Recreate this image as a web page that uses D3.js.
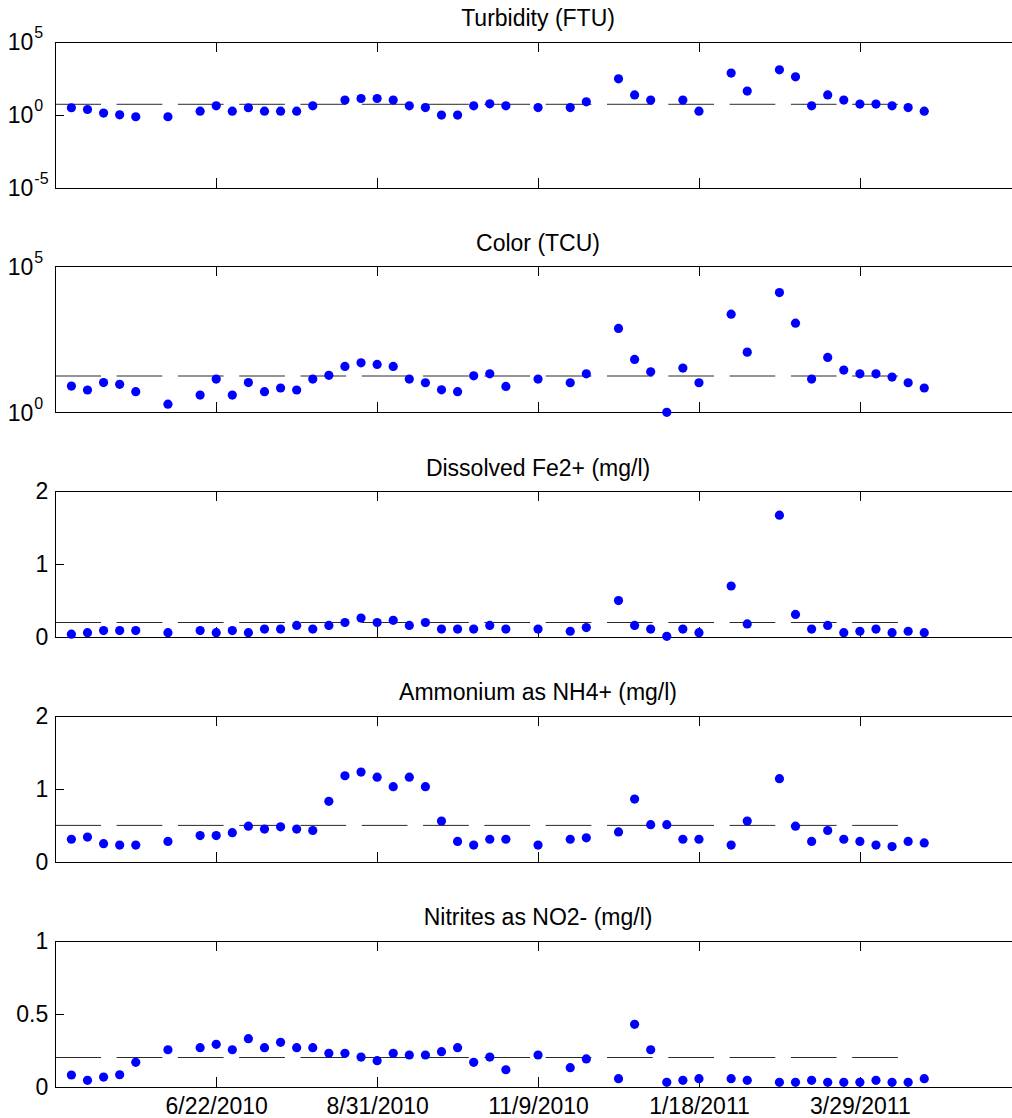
<!DOCTYPE html>
<html>
<head>
<meta charset="utf-8">
<script src="https://cdn.jsdelivr.net/npm/d3@7"></script>
<style>
  html, body { margin: 0; padding: 0; background: #fff; }
  svg { display: block; }
  text { font-family: "Liberation Sans", Arial, Helvetica, sans-serif; fill: #000; }
  .axis path, .axis line { stroke: #000; stroke-width: 1; shape-rendering: crispEdges; }
</style>
</head>
<body>
<svg id="chart" width="1012" height="1118"></svg>
<script>
// Weekly sampling dates (mostly Tuesdays)
const sampleDates = [
  "2010-04-20","2010-04-27","2010-05-04","2010-05-11","2010-05-18","2010-06-01","2010-06-15","2010-06-22",
  "2010-06-29","2010-07-06","2010-07-13","2010-07-20","2010-07-27","2010-08-03","2010-08-10","2010-08-17",
  "2010-08-24","2010-08-31","2010-09-07","2010-09-14","2010-09-21","2010-09-28","2010-10-05","2010-10-12",
  "2010-10-19","2010-10-26","2010-11-09","2010-11-23","2010-11-30","2010-12-14","2010-12-21","2010-12-28",
  "2011-01-04","2011-01-11","2011-01-18","2011-02-01","2011-02-08","2011-02-22","2011-03-01","2011-03-08",
  "2011-03-15","2011-03-22","2011-03-29","2011-04-05","2011-04-12","2011-04-19","2011-04-26"
];

// Turbidity (FTU); null = not measured
const turbidity = [
  2.9, 2.2, 1.25, 0.95, 0.70, 0.70, 1.7, 3.9, 1.7, 2.9, 1.7, 1.7, 1.7, 3.9, null, 9.7,
  12.5, 12.5, 9.7, 3.9, 3.0, 0.91, 0.91, 3.9, 5.4, 3.9, 3.0, 3.0, 7.4, 279, 22, 9.7,
  null, 9.7, 1.7, 686, 40, 1153, 382, 3.9, 22, 9.7, 5.2, 5.2, 3.9, 3.0, 1.7
];

// Color (TCU)
const color = [
  7.9, 5.8, 10.4, 9.1, 5.1, 1.9, 3.9, 13.7, 3.9, 10.4, 5.1, 6.8, 5.8, 13.7, 18.4, 37.3,
  49.5, 43.7, 37.3, 13.7, 10.3, 5.9, 5.1, 17.8, 20.8, 7.7, 13.7, 10.3, 20.8, 743, 64.7, 24.4,
  1.0, 32.7, 10.3, 2291, 115, 12620, 1127, 13.7, 75.9, 27.9, 20.8, 20.8, 16.1, 10.3, 6.8
];

// Dissolved Fe2+ (mg/l)
const iron = [
  0.04, 0.06, 0.09, 0.09, 0.09, 0.06, 0.09, 0.06, 0.09, 0.06, 0.11, 0.11, 0.16, 0.11, 0.16, 0.20,
  0.26, 0.20, 0.23, 0.16, 0.20, 0.11, 0.11, 0.11, 0.16, 0.11, 0.11, 0.08, 0.13, 0.50, 0.16, 0.11,
  0.01, 0.11, 0.06, 0.70, 0.18, 1.67, 0.31, 0.11, 0.16, 0.06, 0.08, 0.11, 0.06, 0.08, 0.06
];

// Ammonium as NH4+ (mg/l)
const ammonium = [
  0.31, 0.34, 0.25, 0.23, 0.23, 0.28, 0.36, 0.36, 0.40, 0.49, 0.45, 0.48, 0.45, 0.43, 0.83, 1.18,
  1.23, 1.16, 1.03, 1.16, 1.03, 0.56, 0.28, 0.23, 0.31, 0.31, 0.23, 0.31, 0.33, 0.41, 0.86, 0.51,
  0.51, 0.31, 0.31, 0.23, 0.56, 1.14, 0.49, 0.28, 0.43, 0.31, 0.28, 0.23, 0.21, 0.28, 0.26
];

// Nitrites as NO2- (mg/l)
const nitrites = [
  0.080, 0.044, 0.066, 0.082, 0.167, 0.253, 0.267, 0.290, 0.253, 0.329, 0.267, 0.304, 0.267, 0.267, 0.229, 0.229,
  0.203, 0.178, 0.229, 0.217, 0.217, 0.240, 0.267, 0.167, 0.203, 0.116, 0.217, 0.130, 0.190, 0.055, 0.427, 0.253,
  0.030, 0.044, 0.055, 0.055, 0.044, 0.030, 0.030, 0.044, 0.030, 0.030, 0.030, 0.044, 0.030, 0.030, 0.055
];

const panelTitles = ["Turbidity (FTU)", "Color (TCU)", "Dissolved Fe2+ (mg/l)", "Ammonium as NH4+ (mg/l)", "Nitrites as NO2- (mg/l)"];
const limits = [5, 17.5, 0.2, 0.5, 0.2];           // guideline level per parameter
const limitSpan = ["2010-04-13", "2011-04-19"];     // dates covered by the guideline line
const xRange = ["2010-04-13", "2011-06-07"];
const xTickDates = ["2010-06-22", "2010-08-31", "2010-11-09", "2011-01-18", "2011-03-29"];
const xTickLabels = ["6/22/2010", "8/31/2010", "11/9/2010", "1/18/2011", "3/29/2011"];

// y-axis settings per panel
const yScaleTypes = ["log", "log", "linear", "linear", "linear"];
const yDomains = [[1e-5, 1e5], [1, 1e5], [0, 2], [0, 2], [0, 1]];
const yTicks = [[1e-5, 1, 1e5], [1, 1e5], [0, 1, 2], [0, 1, 2], [0, 0.5, 1]];
const yTickLabels = [["-5", "0", "5"], ["0", "5"], ["0", "1", "2"], ["0", "1", "2"], ["0", "0.5", "1"]];

const series = [turbidity, color, iron, ammonium, nitrites];

const parse = d3.utcParse("%Y-%m-%d");
const dates = sampleDates.map(parse);

const left = 55.3, right = 1020.8;
const panelTop0 = 41.5, panelStep = 224.8, panelH = 146;
const fontSize = 23;

const x = d3.scaleUtc().domain(xRange.map(parse)).range([left, right]);

const svg = d3.select("#chart");

series.forEach((vals, i) => {
  const top = panelTop0 + i * panelStep;
  const bottom = top + panelH;
  const y = (yScaleTypes[i] === "log" ? d3.scaleLog() : d3.scaleLinear())
    .domain(yDomains[i]).range([bottom, top]);

  const g = svg.append("g");

  // title
  g.append("text")
    .attr("x", (left + right) / 2)
    .attr("y", top - 15.5)
    .attr("text-anchor", "middle")
    .attr("font-size", fontSize)
    .text(panelTitles[i]);

  // guideline (dashed)
  g.append("line")
    .attr("x1", x(parse(limitSpan[0])))
    .attr("x2", x(parse(limitSpan[1])))
    .attr("y1", y(limits[i]))
    .attr("y2", y(limits[i]))
    .attr("stroke", "#2a2a2a")
    .attr("stroke-width", 1)
    .attr("stroke-dasharray", "45.7 15.6");

  // bottom axis (labels only on the last panel)
  const isLast = i === series.length - 1;
  const xb = d3.axisBottom(x)
    .tickValues(xTickDates.map(parse))
    .tickSizeInner(-10).tickSizeOuter(0).tickPadding(10.5)
    .tickFormat((d, k) => isLast ? xTickLabels[k] : "");
  g.append("g").attr("class", "axis")
    .attr("transform", `translate(0,${bottom})`)
    .call(xb)
    .call(s => s.selectAll("text").attr("font-size", fontSize).attr("font-family", null));

  // top box edge with ticks
  g.append("g").attr("class", "axis")
    .attr("transform", `translate(0,${top})`)
    .call(d3.axisTop(x).tickValues(xTickDates.map(parse))
      .tickSizeInner(-10).tickSizeOuter(0).tickFormat(""));

  // left axis
  const isLog = yScaleTypes[i] === "log";
  const yl = d3.axisLeft(y)
    .tickValues(yTicks[i])
    .tickSizeInner(-9).tickSizeOuter(0).tickPadding(7)
    .tickFormat((d, k) => isLog ? "" : yTickLabels[i][k]);
  const ga = g.append("g").attr("class", "axis")
    .attr("transform", `translate(${left},0)`)
    .call(yl)
    .call(s => s.selectAll("text").attr("font-size", fontSize).attr("font-family", null));

  if (isLog) {
    // base "10" with a raised exponent
    ga.selectAll(".tick").each(function (d, k) {
      const t = d3.select(this);
      t.append("text")
        .attr("x", -22)
        .attr("dy", "0.36em")
        .attr("text-anchor", "end")
        .attr("font-size", fontSize)
        .text("10");
      t.append("text")
        .attr("x", -21)
        .attr("dy", "0.36em")
        .attr("transform", "translate(0,-10)")
        .attr("text-anchor", "start")
        .attr("font-size", 16)
        .text(yTickLabels[i][k]);
    });
  }

  // right box edge with ticks
  g.append("g").attr("class", "axis")
    .attr("transform", `translate(${right},0)`)
    .call(d3.axisRight(y).tickValues(yTicks[i])
      .tickSizeInner(-9).tickSizeOuter(0).tickFormat(""));

  // samples
  g.append("g")
    .selectAll("circle")
    .data(vals.map((v, k) => ({ d: dates[k], v })).filter(p => p.v !== null))
    .join("circle")
    .attr("cx", p => x(p.d))
    .attr("cy", p => y(p.v))
    .attr("r", 4.6)
    .attr("fill", "#0000ff");
});
</script>
</body>
</html>
